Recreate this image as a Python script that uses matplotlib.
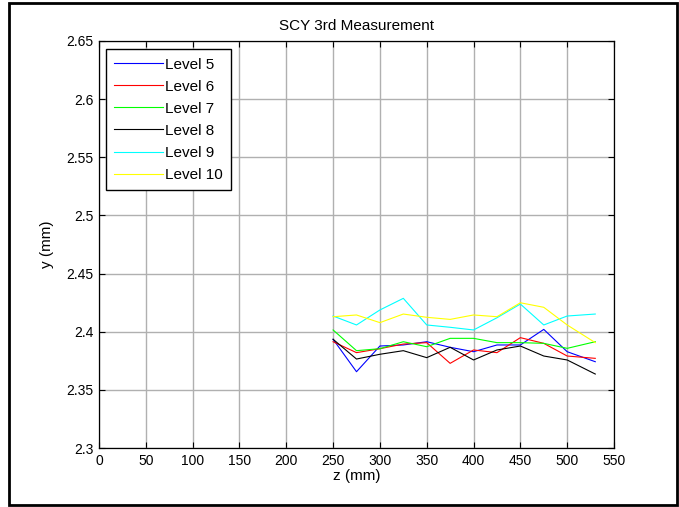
import matplotlib
matplotlib.use("Agg")
import matplotlib.pyplot as plt
from matplotlib.patches import Rectangle

plt.rcParams['font.family'] = ['Liberation Sans', 'DejaVu Sans']

z = [250, 275, 300, 325, 350, 375, 400, 425, 450, 475, 500, 530]
level5 = [2.3935, 2.3656, 2.3877, 2.3886, 2.3914, 2.3866, 2.3828, 2.3886, 2.3886, 2.4020, 2.3828, 2.3742]
level6 = [2.3914, 2.3820, 2.3854, 2.3894, 2.3906, 2.3728, 2.3843, 2.3820, 2.3949, 2.3900, 2.3791, 2.3771]
level7 = [2.4015, 2.3837, 2.3854, 2.3914, 2.3871, 2.3943, 2.3943, 2.3906, 2.3906, 2.3900, 2.3857, 2.3914]
level8 = [2.3935, 2.3765, 2.3806, 2.3837, 2.3777, 2.3866, 2.3757, 2.3843, 2.3877, 2.3791, 2.3757, 2.3636]
level9 = [2.4135, 2.4058, 2.4187, 2.4287, 2.4058, 2.4038, 2.4015, 2.4120, 2.4238, 2.4058, 2.4135, 2.4152]
level10 = [2.4129, 2.4144, 2.4078, 2.4152, 2.4124, 2.4106, 2.4144, 2.4129, 2.4249, 2.4210, 2.4058, 2.3906]

series = [("Level 5", level5, "#0000ff"),
          ("Level 6", level6, "#ff0000"),
          ("Level 7", level7, "#00ff00"),
          ("Level 8", level8, "#000000"),
          ("Level 9", level9, "#00ffff"),
          ("Level 10", level10, "#ffff00")]

xticks = [0, 50, 100, 150, 200, 250, 300, 350, 400, 450, 500, 550]
yticks = [2.3, 2.35, 2.4, 2.45, 2.5, 2.55, 2.6, 2.65]

fig = plt.figure(figsize=(6.79, 5.07), dpi=100)
ax = fig.add_axes([99/679, 59/507, (614-99)/679, (448-41)/507])

for name, vals, col in series:
    ax.plot(z, vals, color=col, lw=0.8, label=name)

ax.set_xlim(0, 550)
ax.set_ylim(2.3, 2.65)
ax.set_xticks(xticks)
ax.set_xticklabels([str(t) for t in xticks])
ax.set_yticks(yticks)
ax.set_yticklabels(["2.3", "2.35", "2.4", "2.45", "2.5", "2.55", "2.6", "2.65"])
ax.grid(True, color="#b0b0b0", lw=1.0, ls="-")
ax.set_axisbelow(True)
ax.tick_params(direction="in", top=True, right=True, length=4, width=0.8, labelsize=10, pad=4)
for s in ax.spines.values():
    s.set_linewidth(0.9)
    s.set_color("black")

ax.set_title("SCY 3rd Measurement", fontsize=11, pad=8)
ax.set_xlabel("z (mm)", fontsize=11, labelpad=1)
ax.set_ylabel("y (mm)", fontsize=11, labelpad=9)

leg = ax.legend(loc="upper left", bbox_to_anchor=(0.013, 0.98), fontsize=11,
                frameon=True, fancybox=False, shadow=False, framealpha=1,
                edgecolor="black", handlelength=3.2, handletextpad=0.1,
                labelspacing=0.53, borderpad=0.55, borderaxespad=0)
leg.get_frame().set_linewidth(1.0)

fig.patches.append(Rectangle((9/679, 2/507), (677-9)/679, (504-2)/507,
                             transform=fig.transFigure, fill=False,
                             edgecolor="black", lw=2))

fig.savefig("out.png", dpi=100)
